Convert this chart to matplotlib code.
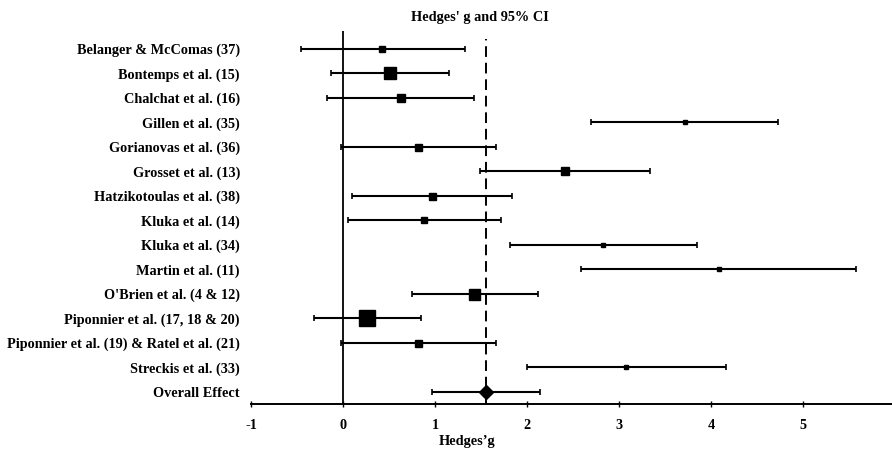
import matplotlib
matplotlib.use("Agg")
import matplotlib.pyplot as plt
import numpy as np

plt.rcParams['font.family'] = ['Liberation Serif', 'DejaVu Serif']
plt.rcParams['font.weight'] = 'bold'

# studies, top to bottom
studies = ["Belanger & McComas (37)", "Bontemps et al. (15)", "Chalchat et al. (16)",
           "Gillen et al. (35)", "Gorianovas et al. (36)", "Grosset et al. (13)",
           "Hatzikotoulas et al. (38)", "Kluka et al. (14)", "Kluka et al. (34)",
           "Martin et al. (11)", "O'Brien et al. (4 & 12)", "Piponnier et al. (17, 18 & 20)",
           "Piponnier et al. (19) & Ratel et al. (21)", "Streckis et al. (33)"]
g = [0.42, 0.51, 0.63, 3.72, 0.82, 2.41, 0.97, 0.88, 2.83, 4.09, 1.43, 0.26, 0.82, 3.08]
ci_low = [-0.46, -0.13, -0.17, 2.70, -0.02, 1.49, 0.10, 0.05, 1.82, 2.59, 0.75, -0.32, -0.02, 2.00]
ci_high = [1.33, 1.15, 1.42, 4.73, 1.66, 3.34, 1.84, 1.72, 3.85, 5.58, 2.12, 0.85, 1.66, 4.17]
# relative weight -> marker size (px)
weights = [6.5, 12, 8, 5, 7, 7.5, 7, 6.5, 5, 4, 11, 16, 7, 4]

overall_label = "Overall Effect"
overall_g = 1.55
overall_low = 0.97
overall_high = 2.14

px = 0.72  # px -> pt at 100 dpi
fs = 10.3

fig = plt.figure(figsize=(8.92, 4.5), dpi=100)
ax = fig.add_axes([251/892, 1 - 404/450, 1 - 251/892, (404 - 31)/450])

n = len(studies)
ypos = np.arange(n + 1, 1, -1)  # 15 .. 2
for y, m, lo, hi, w in zip(ypos, g, ci_low, ci_high, weights):
    ax.errorbar(m, y, xerr=[[m - lo], [hi - m]], fmt='s', color='black',
                ms=w * px, elinewidth=1.5, capsize=2.5, capthick=1.2)

ax.errorbar(overall_g, 1, xerr=[[overall_g - overall_low], [overall_high - overall_g]],
            fmt='D', color='black', ms=10 * px, elinewidth=1.5, capsize=2.5, capthick=1.2)

ax.set_ylim(0.51, 15.73)
ax.set_xlim(-1, 5.97)

# zero line and overall effect line
ax.axvline(0, color='black', lw=1.3)
ax.vlines(overall_g, 0.51, 15.4, colors='black', lw=1.4, linestyles=(0, (5.5, 3)))

ax.set_yticks(list(ypos) + [1])
ax.set_yticklabels(studies + [overall_label], fontsize=fs, fontweight='bold')
ax.tick_params(axis='y', length=0, pad=8)

ax.set_xticks([-1, 0, 1, 2, 3, 4, 5])
ax.set_xticklabels(['-1', '0', '1', '2', '3', '4', '5'], fontsize=fs, fontweight='bold')
ax.tick_params(axis='x', direction='inout', length=5, width=1, pad=8)

for s in ['left', 'right', 'top']:
    ax.spines[s].set_visible(False)
ax.spines['bottom'].set_linewidth(1.4)

ax.set_xlabel("Hedges\u2019g", fontsize=fs, fontweight='bold')
ax.xaxis.set_label_coords((467 - 251) / (892 - 251), -31 / 373)
fig.text(480 / 892, 1 - 17 / 450, "Hedges' g and 95% CI", ha='center', va='center',
         fontsize=fs, fontweight='bold')

fig.savefig("out.png", dpi=100)
